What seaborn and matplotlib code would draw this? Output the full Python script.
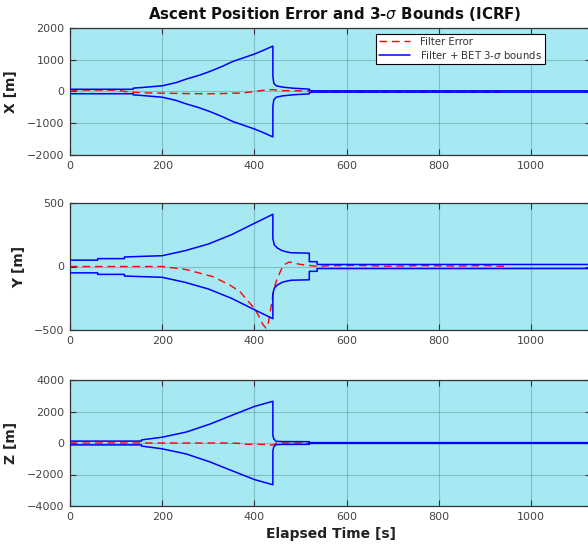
import matplotlib
matplotlib.use('Agg')
import numpy as np
import matplotlib.pyplot as plt
import seaborn as sns

# X channel: 3-sigma bound (plotted as +/-) and filter error
x_bound_t = [0, 137, 137, 160, 200, 230, 252, 280, 303, 330, 353, 380, 400, 420, 440,
             440, 442, 447, 460, 483, 500, 519, 519, 525, 1130]
x_bound_v = [70, 70, 105, 130, 180, 280, 390, 510, 630, 790, 945, 1080, 1180, 1300, 1430,
             470, 265, 180, 140, 105, 90, 75, 40, 20, 20]
x_err_t = [0, 10, 20, 100, 120, 137, 170, 250, 300, 330, 353, 370, 396, 420, 440,
           455, 483, 519, 540, 947]
x_err_v = [0, 30, 45, 45, 0, -25, -45, -65, -72, -65, -55, -50, -10, 40, 60,
           30, 25, 15, 0, 0]

# Y channel
y_bound_t = [0, 60, 60, 118, 118, 200, 250, 300, 350, 400, 440, 440, 443, 450, 460,
             470, 480, 519, 519, 536, 536, 1130]
y_bound_v = [50, 50, 62, 62, 75, 85, 125, 177, 250, 340, 411, 220, 170, 145, 125,
             115, 108, 105, 38, 38, 16, 16]
y_err_t = [0, 200, 252, 310, 346, 368, 389, 400, 411, 418, 425, 430, 436, 441, 447,
           458, 465, 475, 483, 497, 519, 540, 560, 620, 700, 760, 840, 900, 947]
y_err_v = [0, 0, -24, -80, -145, -195, -285, -330, -400, -455, -485, -450, -320, -200, -120,
           -25, 15, 35, 30, 18, 8, 0, 6, 8, 2, 7, 3, 7, 0]

# Z channel
z_bound_t = [0, 155, 155, 200, 252, 303, 353, 400, 440, 440, 442, 447, 460, 519, 519, 1130]
z_bound_v = [120, 120, 195, 370, 695, 1195, 1780, 2320, 2650, 490, 250, 105, 90, 85, 25, 25]
z_err_t = [0, 350, 370, 380, 420, 432, 440, 450, 460, 947]
z_err_v = [0, 0, -30, -80, -90, -130, -130, 30, 0, 0]

panels = [
    ('X [m]', x_bound_t, x_bound_v, x_err_t, x_err_v, [-2000, -1000, 0, 1000, 2000]),
    ('Y [m]', y_bound_t, y_bound_v, y_err_t, y_err_v, [-500, 0, 500]),
    ('Z [m]', z_bound_t, z_bound_v, z_err_t, z_err_v, [-4000, -2000, 0, 2000, 4000]),
]

sns.set_theme(style='ticks')
plt.rcParams['font.family'] = ['DejaVu Sans']
plt.rcParams['mathtext.fontset'] = 'dejavusans'

W, H = 588, 550
fig = plt.figure(figsize=(W / 100, H / 100), dpi=100)

bg = '#a6e9f3'
# axes boxes in pixels (top, bottom)
boxes = [(28, 155), (203, 330), (380, 506)]
left_px, right_px = 70, 591
label_x = [-0.1, -0.084, -0.1]

for i, (ylab, bt, bv, et, ev, yticks) in enumerate(panels):
    top, bot = boxes[i]
    ax = fig.add_axes([left_px / W, 1 - bot / H, (right_px - left_px) / W, (bot - top) / H])
    ax.set_facecolor(bg)
    ax.set_axisbelow(True)

    sns.lineplot(x=et, y=ev, ax=ax, color='red', linewidth=1.0,
                 linestyle=(0, (5.5, 3.5)), estimator=None, sort=False,
                 label='Filter Error', zorder=2)
    sns.lineplot(x=bt, y=bv, ax=ax, color='blue', linewidth=1.1,
                 estimator=None, sort=False, label='Filter + BET 3-$\\sigma$ bounds', zorder=3)
    sns.lineplot(x=bt, y=-np.array(bv), ax=ax, color='blue', linewidth=1.1,
                 estimator=None, sort=False, zorder=3)

    ax.set_xlim(0, 1130)
    ax.set_ylim(yticks[0], yticks[-1])
    ax.set_yticks(yticks)
    ax.set_xticks([0, 200, 400, 600, 800, 1000])
    ax.grid(True, color='#4d7f88', alpha=0.4, linewidth=0.8)
    ax.tick_params(direction='in', top=True, right=True, length=4, width=0.8,
                   labelsize=8, colors='#333333', labelcolor='#444444', pad=4)
    for s in ax.spines.values():
        s.set_color('#333333')
        s.set_linewidth(0.9)

    ax.set_ylabel(ylab, fontsize=10, fontweight='bold', color='#222222')
    ax.yaxis.set_label_coords(label_x[i], 0.5)
    ax.set_xlabel('')

    if i == 0:
        handles, labels = ax.get_legend_handles_labels()
        leg = ax.legend(handles[:2], labels[:2], loc='upper right',
                        bbox_to_anchor=((545 - left_px) / (right_px - left_px), (155 - 34) / 127),
                        borderaxespad=0, fontsize=7.3, fancybox=False, framealpha=1,
                        edgecolor='black', handlelength=3.0, handletextpad=1.0,
                        borderpad=0.3, labelspacing=0.15)
        leg.get_frame().set_linewidth(0.8)
        for t in leg.get_texts():
            t.set_color('#333333')
    else:
        leg = ax.get_legend()
        if leg is not None:
            leg.remove()

    if i == 2:
        ax.set_xlabel('Elapsed Time [s]', fontsize=10, fontweight='bold', color='#222222')

fig.text(335 / W, 1 - 14 / H, 'Ascent Position Error and 3-$\\sigma$ Bounds (ICRF)',
         ha='center', va='center', fontsize=10.8, fontweight='bold', color='#111111')

fig.savefig('out.png', dpi=100)
